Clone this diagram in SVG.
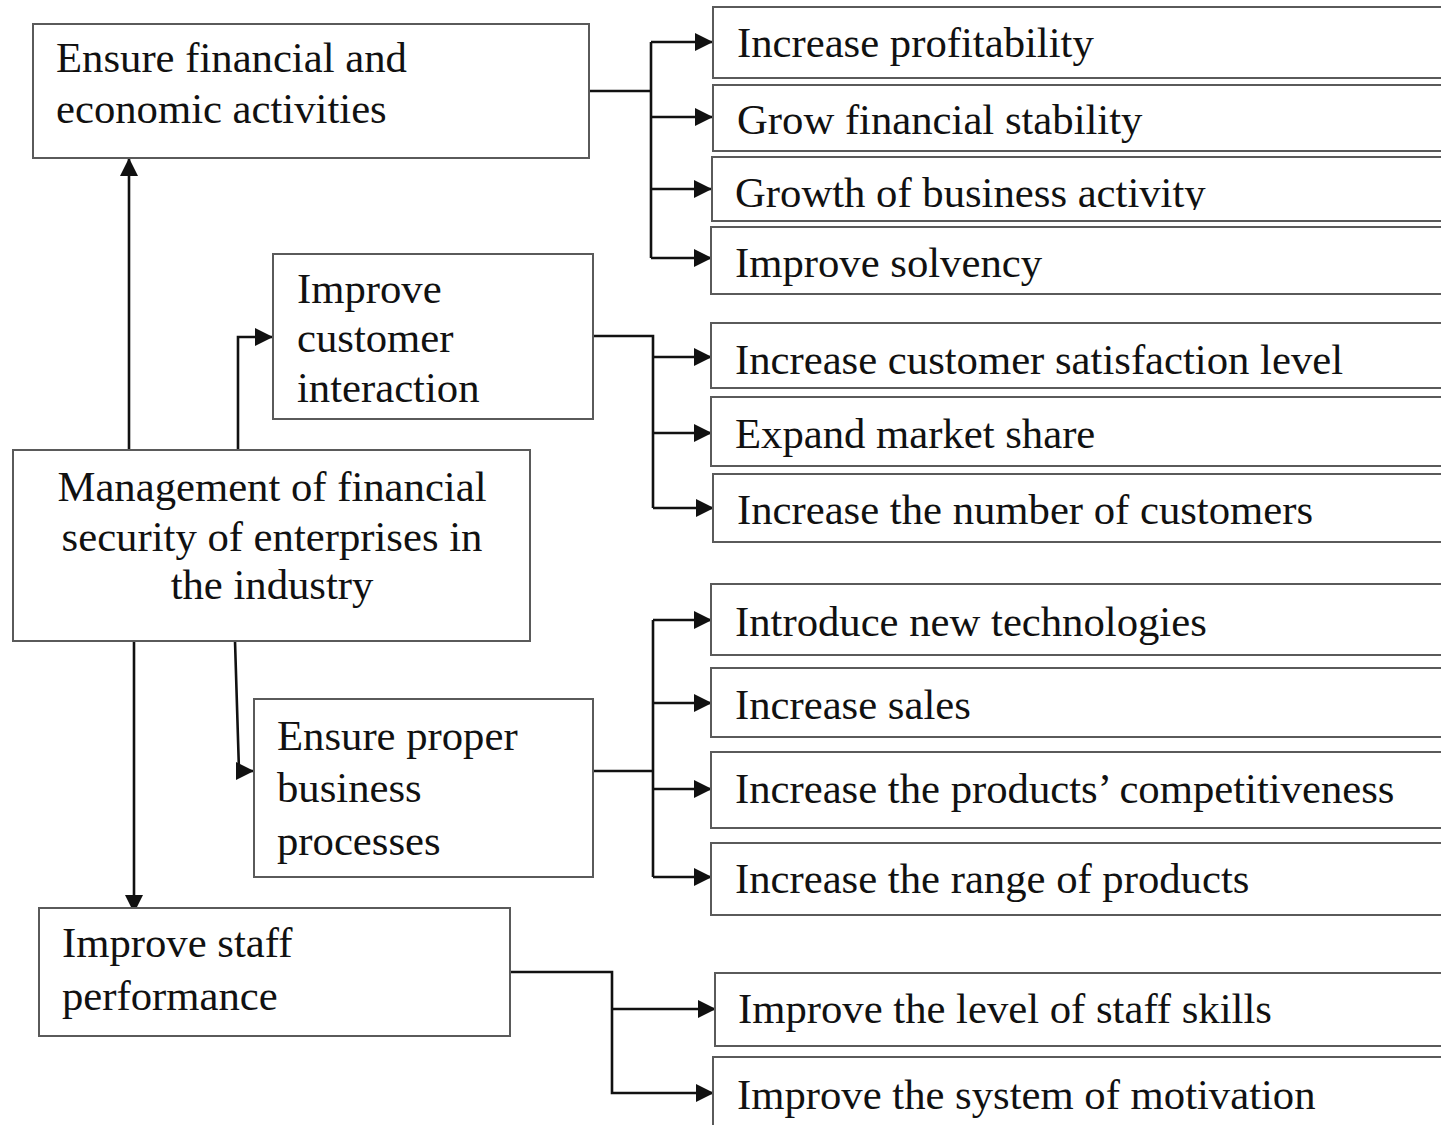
<svg xmlns="http://www.w3.org/2000/svg" width="1441" height="1125" viewBox="0 0 1441 1125">
<style>
.box{fill:#fff;stroke:#5a5a5a;stroke-width:2}
.t{font-family:"Liberation Serif","Times New Roman",serif;font-size:42.7px;fill:#111}
.c{fill:none;stroke:#111;stroke-width:2.6}
</style>
<defs>
<marker id="ah" markerUnits="userSpaceOnUse" markerWidth="18" markerHeight="18" viewBox="0 0 18 18" refX="17" refY="9" orient="auto">
<path d="M0,0 L18,9 L0,18 Z" fill="#111"/>
</marker>
<clipPath id="clip3"><rect x="700" y="150" width="760" height="60"/></clipPath>
</defs>
<rect width="1441" height="1125" fill="#fff"/>

<g id="connectors">
<path class="c" d="M129,450 V159" marker-end="url(#ah)"/>
<path class="c" d="M238,450 V337 H272" marker-end="url(#ah)"/>
<path class="c" d="M134,641 V912" marker-end="url(#ah)"/>
<path class="c" d="M235,641 L239,771 H253" marker-end="url(#ah)"/>

<path class="c" d="M589,91 H651"/>
<path class="c" d="M651,42 V258"/>
<path class="c" d="M651,42 H712" marker-end="url(#ah)"/>
<path class="c" d="M651,117 H712" marker-end="url(#ah)"/>
<path class="c" d="M651,189 H711" marker-end="url(#ah)"/>
<path class="c" d="M651,258 H711" marker-end="url(#ah)"/>

<path class="c" d="M593,336 H653 V508"/>
<path class="c" d="M653,357 H711" marker-end="url(#ah)"/>
<path class="c" d="M653,433 H711" marker-end="url(#ah)"/>
<path class="c" d="M653,508 H713" marker-end="url(#ah)"/>

<path class="c" d="M593,771 H653"/>
<path class="c" d="M653,620 V877"/>
<path class="c" d="M653,620 H711" marker-end="url(#ah)"/>
<path class="c" d="M653,703 H711" marker-end="url(#ah)"/>
<path class="c" d="M653,789 H711" marker-end="url(#ah)"/>
<path class="c" d="M653,877 H711" marker-end="url(#ah)"/>

<path class="c" d="M510,972 H612 V1093 H713" marker-end="url(#ah)"/>
<path class="c" d="M612,1009 H715" marker-end="url(#ah)"/>
</g>

<g id="n-ensure-financial">
<rect class="box" x="33" y="24" width="556" height="134"/>
<text class="t" x="56" y="72">Ensure financial and</text>
<text class="t" x="56" y="123">economic activities</text>
</g>
<g id="n-customer">
<rect class="box" x="273" y="254" width="320" height="165"/>
<text class="t" x="297" y="303">Improve</text>
<text class="t" x="297" y="352">customer</text>
<text class="t" x="297" y="402">interaction</text>
</g>
<g id="n-management">
<rect class="box" x="13" y="450" width="517" height="191"/>
<text class="t" x="272" y="501" text-anchor="middle">Management of financial</text>
<text class="t" x="272" y="551" text-anchor="middle">security of enterprises in</text>
<text class="t" x="272" y="599" text-anchor="middle">the industry</text>
</g>
<g id="n-business">
<rect class="box" x="254" y="699" width="339" height="178"/>
<text class="t" x="277" y="750">Ensure proper</text>
<text class="t" x="277" y="802">business</text>
<text class="t" x="277" y="855">processes</text>
</g>
<g id="n-staff">
<rect class="box" x="39" y="908" width="471" height="128"/>
<text class="t" x="62" y="957">Improve staff</text>
<text class="t" x="62" y="1010">performance</text>
</g>

<g id="n-r1"><rect class="box" x="713" y="7" width="740" height="71"/><text class="t" x="737" y="57">Increase profitability</text></g>
<g id="n-r2"><rect class="box" x="713" y="85" width="740" height="66"/><text class="t" x="737" y="134">Grow financial stability</text></g>
<g id="n-r3"><rect class="box" x="712" y="157" width="740" height="64"/><text class="t" x="735" y="207" clip-path="url(#clip3)">Growth of business activity</text></g>
<g id="n-r4"><rect class="box" x="711" y="227" width="740" height="67"/><text class="t" x="735" y="277">Improve solvency</text></g>
<g id="n-r5"><rect class="box" x="711" y="323" width="740" height="65"/><text class="t" x="735" y="374">Increase customer satisfaction level</text></g>
<g id="n-r6"><rect class="box" x="711" y="397" width="740" height="69"/><text class="t" x="735" y="448">Expand market share</text></g>
<g id="n-r7"><rect class="box" x="713" y="474" width="740" height="68"/><text class="t" x="737" y="524">Increase the number of customers</text></g>
<g id="n-r8"><rect class="box" x="711" y="584" width="740" height="71"/><text class="t" x="735" y="636">Introduce new technologies</text></g>
<g id="n-r9"><rect class="box" x="711" y="668" width="740" height="69"/><text class="t" x="735" y="719">Increase sales</text></g>
<g id="n-r10"><rect class="box" x="711" y="752" width="740" height="76"/><text class="t" x="735" y="803">Increase the products’ competitiveness</text></g>
<g id="n-r11"><rect class="box" x="711" y="843" width="740" height="72"/><text class="t" x="735" y="893">Increase the range of products</text></g>
<g id="n-r12"><rect class="box" x="715" y="973" width="740" height="73"/><text class="t" x="738" y="1023">Improve the level of staff skills</text></g>
<g id="n-r13"><rect class="box" x="713" y="1057" width="740" height="90"/><text class="t" x="737" y="1109">Improve the system of motivation</text></g>
</svg>
